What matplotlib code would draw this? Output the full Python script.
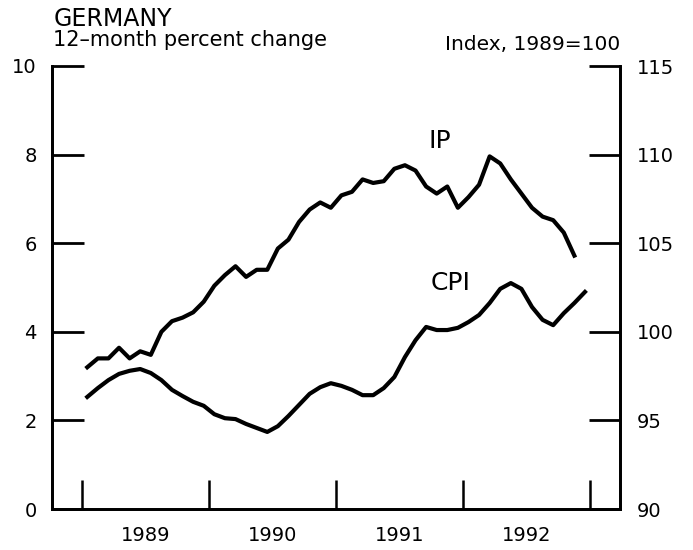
import numpy as np
import matplotlib
matplotlib.use("Agg")
from matplotlib import pyplot as plt

plt.rcParams['font.family'] = ['DejaVu Sans']

# monthly data, Jan 1989 onwards
ip_index = [98.0, 98.5, 98.5, 99.1, 98.5, 98.9, 98.7, 100.0, 100.6, 100.8, 101.1, 101.7,
            102.6, 103.2, 103.7, 103.1, 103.5, 103.5, 104.7, 105.2, 106.2, 106.9, 107.3, 107.0,
            107.7, 107.9, 108.6, 108.4, 108.5, 109.2, 109.4, 109.1, 108.2, 107.8, 108.2, 107.0,
            107.6, 108.3, 109.9, 109.5, 108.6, 107.8, 107.0, 106.5, 106.3, 105.6, 104.3]
cpi_pct = [2.53, 2.73, 2.91, 3.05, 3.12, 3.16, 3.07, 2.91, 2.69, 2.55, 2.42, 2.33,
           2.14, 2.05, 2.03, 1.92, 1.83, 1.74, 1.87, 2.10, 2.35, 2.60, 2.75, 2.84,
           2.78, 2.69, 2.57, 2.57, 2.73, 2.98, 3.43, 3.81, 4.11, 4.04, 4.04, 4.09,
           4.22, 4.38, 4.65, 4.97, 5.10, 4.97, 4.56, 4.27, 4.15, 4.42, 4.65, 4.90]
year_labels = ["1989", "1990", "1991", "1992"]
left_ticks = [0, 2, 4, 6, 8, 10]
right_ticks = [90, 95, 100, 105, 110, 115]

t_cpi = 1989 + (np.arange(len(cpi_pct)) + 0.5) / 12
t_ip = t_cpi[:len(ip_index)]

fig = plt.figure(figsize=(6.93, 5.5), dpi=100)
ax = fig.add_axes([0.075, 0.0745, 0.82, 0.8055])
ax2 = ax.twinx()

ax.plot(t_cpi, cpi_pct, color='black', lw=3.0, solid_joinstyle='round')
ax2.plot(t_ip, ip_index, color='black', lw=3.0, solid_joinstyle='round')

ax.set_xlim(1988.764, 1993.236)
ax.set_ylim(0, 10)
ax2.set_ylim(90, 115)

for a in (ax, ax2):
    a.spines['top'].set_visible(False)
    for s in ('left', 'right', 'bottom'):
        a.spines[s].set_linewidth(2)

ax.set_yticks(left_ticks)
ax.tick_params(axis='y', direction='in', length=23, width=2, labelsize=14, pad=11)
ax2.set_yticks(right_ticks)
ax2.tick_params(axis='y', direction='in', length=22, width=2, labelsize=14, pad=12)

ax.set_xticks([1989, 1990, 1991, 1992, 1993])
ax.set_xticklabels([])
ax.set_xticks([1989.5, 1990.5, 1991.5, 1992.5], minor=True)
ax.set_xticklabels(year_labels, minor=True)
ax.tick_params(axis='x', which='major', direction='in', length=21, width=1.8)
ax.tick_params(axis='x', which='minor', length=0, labelsize=14, pad=12)

ax.text(1991.82, 8.31, "IP", fontsize=18, ha='center', va='center')
ax.text(1991.90, 5.10, "CPI", fontsize=18, ha='center', va='center')

fig.text(0.077, 0.953, "GERMANY", fontsize=17, ha='left', va='baseline')
fig.text(0.077, 0.917, "12\u2013month percent change", fontsize=15, ha='left', va='baseline')
fig.text(0.895, 0.909, "Index, 1989=100", fontsize=14.5, ha='right', va='baseline')

fig.savefig("out.png", dpi=100)
